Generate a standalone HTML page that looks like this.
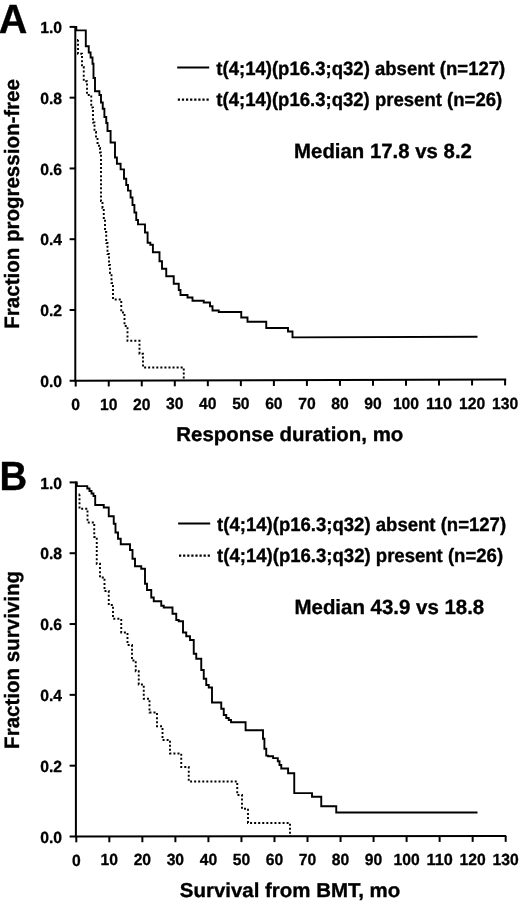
<!DOCTYPE html>
<html><head><meta charset="utf-8"><title>Figure</title>
<style>
html,body{margin:0;padding:0;background:#fff;}
svg{display:block;will-change:transform;text-rendering:geometricPrecision;font-family:"Liberation Sans",sans-serif;font-weight:bold;fill:#000;}
.ax{stroke:#000;stroke-width:2;fill:none;stroke-linecap:butt;}
.so{stroke:#000;stroke-width:1.9;fill:none;stroke-linejoin:miter;}
.do{stroke:#000;stroke-width:1.9;fill:none;stroke-dasharray:2 2.06;}
.lg{stroke:#000;stroke-width:2;fill:none;}
.lgd{stroke:#000;stroke-width:2.2;fill:none;stroke-dasharray:2.2 1.9;}
text{stroke:#000;stroke-width:0.35px;stroke-linejoin:round;}
.tk{font-size:16.1px;stroke-width:0.3px;}
.lt{font-size:19.25px;}
.md{font-size:20.6px;}
.xt{font-size:20px;}
.yt{font-size:20.8px;}
.pl{font-size:40.7px;}
</style></head>
<body>
<svg width="520" height="902" viewBox="0 0 520 902">
<rect width="520" height="902" fill="#fff"/>
<text x="-1.2" y="32.7" class="pl" textLength="28.6" lengthAdjust="spacingAndGlyphs">A</text>
<text x="-0.4" y="489.5" class="pl" textLength="27.7" lengthAdjust="spacingAndGlyphs">B</text>
<path d="M75.3 25.9 V380.75 L506.2 379.599" class="ax" stroke-linejoin="miter"/>
<path d="M69.6 380.75 H75.3" class="ax"/>
<text x="62.0" y="386.95" class="tk" text-anchor="end" textLength="21.8" lengthAdjust="spacingAndGlyphs">0.0</text>
<path d="M69.6 309.98 H75.3" class="ax"/>
<text x="62.0" y="316.18" class="tk" text-anchor="end" textLength="21.8" lengthAdjust="spacingAndGlyphs">0.2</text>
<path d="M69.6 239.21 H75.3" class="ax"/>
<text x="62.0" y="245.41" class="tk" text-anchor="end" textLength="21.8" lengthAdjust="spacingAndGlyphs">0.4</text>
<path d="M69.6 168.44 H75.3" class="ax"/>
<text x="62.0" y="174.64" class="tk" text-anchor="end" textLength="21.8" lengthAdjust="spacingAndGlyphs">0.6</text>
<path d="M69.6 97.67 H75.3" class="ax"/>
<text x="62.0" y="103.87" class="tk" text-anchor="end" textLength="21.8" lengthAdjust="spacingAndGlyphs">0.8</text>
<path d="M69.6 26.9 H75.3" class="ax"/>
<text x="62.0" y="33.1" class="tk" text-anchor="end" textLength="21.8" lengthAdjust="spacingAndGlyphs">1.0</text>
<path d="M75.7 380.749 V386.549" class="ax"/>
<text x="75.7" y="409.749" class="tk" text-anchor="middle" textLength="8.72" lengthAdjust="spacingAndGlyphs">0</text>
<path d="M108.73 380.661 V386.461" class="ax"/>
<text x="108.73" y="409.661" class="tk" text-anchor="middle" textLength="17.44" lengthAdjust="spacingAndGlyphs">10</text>
<path d="M141.76 380.573 V386.373" class="ax"/>
<text x="141.76" y="409.573" class="tk" text-anchor="middle" textLength="17.44" lengthAdjust="spacingAndGlyphs">20</text>
<path d="M174.79 380.484 V386.284" class="ax"/>
<text x="174.79" y="409.484" class="tk" text-anchor="middle" textLength="17.44" lengthAdjust="spacingAndGlyphs">30</text>
<path d="M207.82 380.396 V386.196" class="ax"/>
<text x="207.82" y="409.396" class="tk" text-anchor="middle" textLength="17.44" lengthAdjust="spacingAndGlyphs">40</text>
<path d="M240.85 380.308 V386.108" class="ax"/>
<text x="240.85" y="409.308" class="tk" text-anchor="middle" textLength="17.44" lengthAdjust="spacingAndGlyphs">50</text>
<path d="M273.88 380.22 V386.02" class="ax"/>
<text x="273.88" y="409.22" class="tk" text-anchor="middle" textLength="17.44" lengthAdjust="spacingAndGlyphs">60</text>
<path d="M306.91 380.132 V385.932" class="ax"/>
<text x="306.91" y="409.132" class="tk" text-anchor="middle" textLength="17.44" lengthAdjust="spacingAndGlyphs">70</text>
<path d="M339.94 380.043 V385.843" class="ax"/>
<text x="339.94" y="409.043" class="tk" text-anchor="middle" textLength="17.44" lengthAdjust="spacingAndGlyphs">80</text>
<path d="M372.97 379.955 V385.755" class="ax"/>
<text x="372.97" y="408.955" class="tk" text-anchor="middle" textLength="17.44" lengthAdjust="spacingAndGlyphs">90</text>
<path d="M406 379.867 V385.667" class="ax"/>
<text x="406" y="408.867" class="tk" text-anchor="middle" textLength="26.16" lengthAdjust="spacingAndGlyphs">100</text>
<path d="M439.03 379.779 V385.579" class="ax"/>
<text x="439.03" y="408.779" class="tk" text-anchor="middle" textLength="26.16" lengthAdjust="spacingAndGlyphs">110</text>
<path d="M472.06 379.691 V385.491" class="ax"/>
<text x="472.06" y="408.691" class="tk" text-anchor="middle" textLength="26.16" lengthAdjust="spacingAndGlyphs">120</text>
<path d="M505.09 379.602 V385.402" class="ax"/>
<text x="505.09" y="408.602" class="tk" text-anchor="middle" textLength="26.16" lengthAdjust="spacingAndGlyphs">130</text>
<path d="M75.3 26.9 H76.3 V30.4 H85.8 V46.25 H88.75 V52.5 H90.6 V57.5 H92.5 V63.75 H93.5 V78 H95 V91.25 H99.4 V95 H101 V102.5 H102.75 V108.75 H104.4 V117 H106.25 V123 H107.5 V131 H110.6 V142.5 H115 V157.5 H116.9 V163.75 H120.6 V169.4 H124 V178.75 H126.25 V185 H128 V190.6 H130.6 V197.5 H132.5 V205 H134.4 V212.5 H136.25 V220 H138 V224.4 H145 V232.5 H147.6 V242.7 H150.3 V244.8 H152.9 V252.3 H159.5 V261.25 H162 V268.75 H166.25 V276.25 H173.75 V283.75 H178.75 V290 H180.5 V295 H187.5 V297.5 H192.5 V300.75 H203.75 V302.5 H210 V306.25 H212.5 V310.5 H218.75 V312 H241.25 V317.5 H247.5 V321.75 H266.25 V328 H288 V331.5 H292.5 V337.4 L477.5 336.8" class="so"/>
<path d="M78.2 40 H78 V53.75 H82 V67 H83.75 V81.25 H87 V95 H91.25 V107.5 H93 V122.5 H94.5 V132 H96 V138 H97.5 V143 H99 V148 H100 V152.5 H101 V201 H102.5 V208 H103.75 V218 H105 V232 H106.25 V243 H107.5 V254 H109 V265 H110 V273 H111.5 V283 H113 V299.5 H121.25 V312.5 H124.5 V326 H127.5 V340.75 H139.5 V353.75 H143 V367.5 H183.75 V380" class="do"/>
<path d="M177.2 67.4 H209.2" class="lg"/>
<path d="M177.8 99.6 H209.6" class="lgd"/>
<text x="216.3" y="74.8" class="lt" textLength="289" lengthAdjust="spacingAndGlyphs">t(4;14)(p16.3;q32) absent (n=127)</text>
<text x="216.3" y="106" class="lt" textLength="285.9" lengthAdjust="spacingAndGlyphs">t(4;14)(p16.3;q32) present (n=26)</text>
<text x="294.1" y="157.8" class="md" textLength="177.8" lengthAdjust="spacingAndGlyphs">Median 17.8 vs 8.2</text>
<text x="176.3" y="441.4" class="xt" textLength="227" lengthAdjust="spacingAndGlyphs">Response duration, mo</text>
<text transform="translate(18.5 328.7) rotate(-90)" class="yt" textLength="249.6" lengthAdjust="spacingAndGlyphs">Fraction progression-free</text>
<path d="M75.9 481.4 V836.5 L506.2 836.048" class="ax" stroke-linejoin="miter"/>
<path d="M69.6 836.5 H75.9" class="ax"/>
<text x="62.0" y="842.7" class="tk" text-anchor="end" textLength="21.8" lengthAdjust="spacingAndGlyphs">0.0</text>
<path d="M69.6 765.68 H75.9" class="ax"/>
<text x="62.0" y="771.88" class="tk" text-anchor="end" textLength="21.8" lengthAdjust="spacingAndGlyphs">0.2</text>
<path d="M69.6 694.86 H75.9" class="ax"/>
<text x="62.0" y="701.06" class="tk" text-anchor="end" textLength="21.8" lengthAdjust="spacingAndGlyphs">0.4</text>
<path d="M69.6 624.04 H75.9" class="ax"/>
<text x="62.0" y="630.24" class="tk" text-anchor="end" textLength="21.8" lengthAdjust="spacingAndGlyphs">0.6</text>
<path d="M69.6 553.22 H75.9" class="ax"/>
<text x="62.0" y="559.42" class="tk" text-anchor="end" textLength="21.8" lengthAdjust="spacingAndGlyphs">0.8</text>
<path d="M69.6 482.4 H75.9" class="ax"/>
<text x="62.0" y="488.6" class="tk" text-anchor="end" textLength="21.8" lengthAdjust="spacingAndGlyphs">1.0</text>
<path d="M76.3 836.5 V842.3" class="ax"/>
<text x="76.3" y="865.5" class="tk" text-anchor="middle" textLength="8.72" lengthAdjust="spacingAndGlyphs">0</text>
<path d="M109.33 836.465 V842.265" class="ax"/>
<text x="109.33" y="865.465" class="tk" text-anchor="middle" textLength="17.44" lengthAdjust="spacingAndGlyphs">10</text>
<path d="M142.36 836.43 V842.23" class="ax"/>
<text x="142.36" y="865.43" class="tk" text-anchor="middle" textLength="17.44" lengthAdjust="spacingAndGlyphs">20</text>
<path d="M175.39 836.396 V842.196" class="ax"/>
<text x="175.39" y="865.396" class="tk" text-anchor="middle" textLength="17.44" lengthAdjust="spacingAndGlyphs">30</text>
<path d="M208.42 836.361 V842.161" class="ax"/>
<text x="208.42" y="865.361" class="tk" text-anchor="middle" textLength="17.44" lengthAdjust="spacingAndGlyphs">40</text>
<path d="M241.45 836.326 V842.126" class="ax"/>
<text x="241.45" y="865.326" class="tk" text-anchor="middle" textLength="17.44" lengthAdjust="spacingAndGlyphs">50</text>
<path d="M274.48 836.291 V842.091" class="ax"/>
<text x="274.48" y="865.291" class="tk" text-anchor="middle" textLength="17.44" lengthAdjust="spacingAndGlyphs">60</text>
<path d="M307.51 836.257 V842.057" class="ax"/>
<text x="307.51" y="865.257" class="tk" text-anchor="middle" textLength="17.44" lengthAdjust="spacingAndGlyphs">70</text>
<path d="M340.54 836.222 V842.022" class="ax"/>
<text x="340.54" y="865.222" class="tk" text-anchor="middle" textLength="17.44" lengthAdjust="spacingAndGlyphs">80</text>
<path d="M373.57 836.187 V841.987" class="ax"/>
<text x="373.57" y="865.187" class="tk" text-anchor="middle" textLength="17.44" lengthAdjust="spacingAndGlyphs">90</text>
<path d="M406.6 836.153 V841.953" class="ax"/>
<text x="406.6" y="865.153" class="tk" text-anchor="middle" textLength="26.16" lengthAdjust="spacingAndGlyphs">100</text>
<path d="M439.63 836.118 V841.918" class="ax"/>
<text x="439.63" y="865.118" class="tk" text-anchor="middle" textLength="26.16" lengthAdjust="spacingAndGlyphs">110</text>
<path d="M472.66 836.083 V841.883" class="ax"/>
<text x="472.66" y="865.083" class="tk" text-anchor="middle" textLength="26.16" lengthAdjust="spacingAndGlyphs">120</text>
<path d="M505.69 836.049 V841.849" class="ax"/>
<text x="505.69" y="865.049" class="tk" text-anchor="middle" textLength="26.16" lengthAdjust="spacingAndGlyphs">130</text>
<path d="M75.9 482.4 H76.8 V486.1 H87.3 V488.5 H89.5 V491 H91.5 V493.5 H93.5 V496 H95.2 V505 H103.75 V507.5 H108.75 V516.25 H113.75 V523.75 H115.5 V532.5 H118 V538.75 H120.75 V544.25 H130 V550 H132.5 V558.75 H135 V566.25 H141.25 V568.75 H145 V583.75 H147 V590 H151.25 V597.5 H153.75 V601.25 H161.25 V605.75 H163.75 V607.5 H172.5 V613.75 H176.25 V620 H178.75 V621.25 H183 V632.5 H186.25 V636.25 H190 V640 H193.75 V653.75 H196.25 V658.75 H201.25 V670 H203.75 V678.75 H206.25 V685 H208.75 V687.5 H212 V702.5 H221.25 V708.75 H223.75 V715 H226.25 V718 H228.75 V720 H231 V722.3 H245.6 V730.25 H263 V738.75 H264.4 V748.75 H266.25 V755.6 H268.1 V756.2 H273.1 V758.1 H277.8 V761.25 H279.5 V765 H281.25 V768.5 H288.1 V773.3 H294.25 V793.1 H312 V796.75 H321.25 V806.25 H336.25 V812.5 L477.5 812.5" class="so"/>
<path d="M79.8 494.5 H79.5 V508.75 H87.5 V522.5 H94.25 V537 H96.75 V563.75 H100 V577.5 H104.5 V591 H108.75 V605 H113 V618.75 H121.25 V632.5 H127.5 V645 H132 V660.5 H135.75 V671.25 H138.75 V684.5 H143.75 V698.75 H149.5 V712.5 H157 V726.25 H162.5 V740 H170 V753.5 H181.25 V767 H188.75 V781.5 H237.25 V795 H242 V808.75 H248 V823 H290 V836" class="do"/>
<path d="M178.1 523.6 H210.2" class="lg"/>
<path d="M179 555.7 H210.6" class="lgd"/>
<text x="217.1" y="531" class="lt" textLength="289" lengthAdjust="spacingAndGlyphs">t(4;14)(p16.3;q32) absent (n=127)</text>
<text x="217.1" y="562" class="lt" textLength="286" lengthAdjust="spacingAndGlyphs">t(4;14)(p16.3;q32) present (n=26)</text>
<text x="294.5" y="613.5" class="md" textLength="189.7" lengthAdjust="spacingAndGlyphs">Median 43.9 vs 18.8</text>
<text x="179.8" y="896.9" class="xt" textLength="220.4" lengthAdjust="spacingAndGlyphs">Survival from BMT, mo</text>
<text transform="translate(18.5 748.9) rotate(-90)" class="yt" textLength="178" lengthAdjust="spacingAndGlyphs">Fraction surviving</text>
</svg>
</body></html>
